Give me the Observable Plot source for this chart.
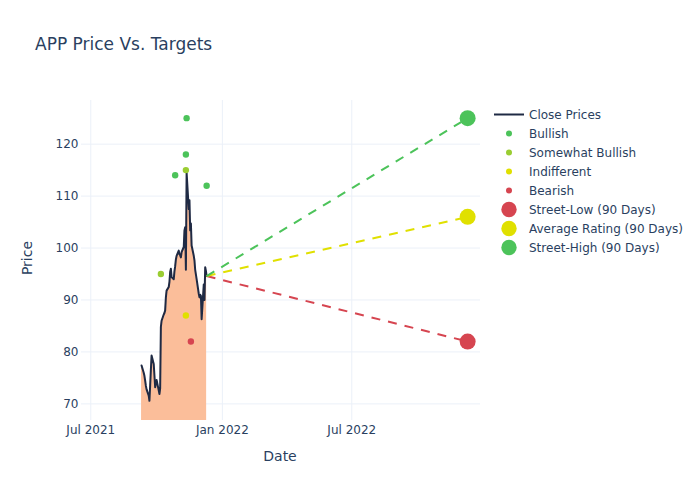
<!DOCTYPE html>
<html>
<head>
<meta charset="utf-8">
<script src="https://cdn.jsdelivr.net/npm/d3@7"></script>
<script src="https://cdn.jsdelivr.net/npm/@observablehq/plot@0.6"></script>
<style>
  body { margin: 0; background: #fff; }
  #wrap { position: relative; width: 700px; height: 500px; font-family: "DejaVu Sans", sans-serif; }
  #overlay { position: absolute; left: 0; top: 0; pointer-events: none; }
</style>
</head>
<body>
<div id="wrap"></div>
<script>
// ---- data ----
const priceDates = [
  "2021-09-10","2021-09-13","2021-09-14","2021-09-15","2021-09-16","2021-09-17",
  "2021-09-20","2021-09-21","2021-09-22","2021-09-23","2021-09-24",
  "2021-09-27","2021-09-28","2021-09-29","2021-09-30","2021-10-01",
  "2021-10-04","2021-10-05","2021-10-06","2021-10-07","2021-10-08",
  "2021-10-11","2021-10-12","2021-10-13","2021-10-14","2021-10-15",
  "2021-10-18","2021-10-19","2021-10-20","2021-10-21","2021-10-22",
  "2021-10-25","2021-10-26","2021-10-27","2021-10-28","2021-10-29",
  "2021-11-01","2021-11-02","2021-11-03","2021-11-04","2021-11-05",
  "2021-11-08","2021-11-09","2021-11-10","2021-11-11","2021-11-12",
  "2021-11-15","2021-11-16","2021-11-17","2021-11-18","2021-11-19",
  "2021-11-22","2021-11-23","2021-11-24","2021-11-26",
  "2021-11-29","2021-11-30","2021-12-01","2021-12-02","2021-12-03",
  "2021-12-06","2021-12-07","2021-12-08","2021-12-09","2021-12-10"
];
const closePrices = [
  77.4, 76.0, 75.4, 74.5, 73.5, 72.8,
  71.6, 70.6, 73.5, 76.5, 79.3,
  77.7, 75.5, 73.2, 74.0, 74.6,
  72.6, 71.9, 73.0, 84.8, 86.0,
  87.2, 87.5, 88.0, 90.5, 91.8,
  92.5, 93.5, 95.4, 96.0, 94.4,
  94.0, 95.5, 96.5, 97.8, 98.5,
  99.5, 98.8, 98.6, 98.2, 99.2,
  100.2, 103.4, 104.0, 95.8, 114.5,
  107.5, 109.2, 103.4, 104.7, 100.5,
  98.5, 97.6, 95.8, 94.0,
  91.2, 90.5, 91.0, 90.8, 86.3,
  93.0, 90.0, 96.3, 95.6, 94.6
];

const ratingDates  = ["2021-11-12","2021-11-11","2021-10-27","2021-12-10","2021-11-11","2021-10-07","2021-11-11","2021-11-18"];
const ratingValues = [125, 118, 114, 112, 115, 95, 87, 82];
const ratingTypes  = ["Bullish","Bullish","Bullish","Bullish","Somewhat Bullish","Somewhat Bullish","Indifferent","Bearish"];

const targetLabels = ["Street-Low (90 Days)", "Average Rating (90 Days)", "Street-High (90 Days)"];
const targetValues = [82, 106, 125];
const targetDate = "2022-12-10";

const xTickDates  = ["2021-07-01", "2022-01-01", "2022-07-01"];
const xTickLabels = ["Jul 2021", "Jan 2022", "Jul 2022"];
const yTicks = [70, 80, 90, 100, 110, 120];

const colors = {
  "Bullish": "#4cc35a",
  "Somewhat Bullish": "#9acd32",
  "Indifferent": "#e0e000",
  "Bearish": "#d64550",
  "Street-Low (90 Days)": "#d64550",
  "Average Rating (90 Days)": "#e0e000",
  "Street-High (90 Days)": "#4cc35a"
};
const lineColor = "#1f2a44";
const fillColor = "#fbbe9a";
const textColor = "#2a3f5f";
const gridColor = "#ebf0f8";
const fontFamily = "'DejaVu Sans', sans-serif";

// ---- build tables ----
const prices = priceDates.map((d, i) => ({date: new Date(d), close: closePrices[i]}));
const ratings = ratingDates.map((d, i) => ({date: new Date(d), value: ratingValues[i], type: ratingTypes[i]}));
const last = prices[prices.length - 1];
const targets = targetLabels.map((l, i) => ({label: l, value: targetValues[i], date: new Date(targetDate)}));
const xTicks = xTickDates.map(d => new Date(d));

const chart = Plot.plot({
  width: 700,
  height: 500,
  marginLeft: 81,
  marginRight: 220,
  marginTop: 100,
  marginBottom: 80,
  style: {fontFamily, fontSize: "12px", color: textColor, background: "#fff"},
  x: {type: "utc", domain: [new Date("2021-06-18"), new Date("2022-12-28")]},
  y: {domain: [66.8, 128.4]},
  color: {type: "identity"},
  marks: [
    Plot.gridX(xTicks, {stroke: gridColor, strokeOpacity: 1, strokeWidth: 1}),
    Plot.gridY(yTicks, {stroke: gridColor, strokeOpacity: 1, strokeWidth: 1}),
    Plot.areaY(prices, {x: "date", y: "close", fill: fillColor, fillOpacity: 1, clip: true}),
    Plot.line(prices, {x: "date", y: "close", stroke: lineColor, strokeWidth: 2}),
    Plot.link(targets, {
      x1: () => last.date, y1: () => last.close,
      x2: "date", y2: "value",
      stroke: d => colors[d.label], strokeWidth: 2, strokeDasharray: "9,8"
    }),
    Plot.dot(ratings, {x: "date", y: "value", fill: d => colors[d.type], r: 3.2}),
    Plot.dot(targets, {x: "date", y: "value", fill: d => colors[d.label], r: 8}),
    Plot.axisX(xTicks, {
      tickSize: 0, tickPadding: 5, label: null,
      tickFormat: d => xTickLabels[xTicks.findIndex(t => +t === +d)]
    }),
    Plot.axisY(yTicks, {tickSize: 0, tickPadding: 3, label: null})
  ]
});

const wrap = document.getElementById("wrap");
wrap.appendChild(chart);

// ---- overlay: title, axis titles, legend ----
const svg = d3.select(wrap).append("svg")
  .attr("id", "overlay").attr("width", 700).attr("height", 500)
  .style("font-family", fontFamily);

svg.append("text").attr("x", 35).attr("y", 50)
  .attr("fill", textColor).attr("font-size", 17)
  .text("APP Price Vs. Targets");

svg.append("text").attr("x", 280).attr("y", 461)
  .attr("text-anchor", "middle").attr("fill", textColor).attr("font-size", 14)
  .text("Date");

svg.append("text").attr("transform", "translate(32,258) rotate(-90)")
  .attr("text-anchor", "middle").attr("fill", textColor).attr("font-size", 14)
  .text("Price");

const legendItems = [
  {label: "Close Prices", kind: "line", color: lineColor},
  {label: "Bullish", kind: "small", color: colors["Bullish"]},
  {label: "Somewhat Bullish", kind: "small", color: colors["Somewhat Bullish"]},
  {label: "Indifferent", kind: "small", color: colors["Indifferent"]},
  {label: "Bearish", kind: "small", color: colors["Bearish"]},
  {label: targetLabels[0], kind: "big", color: colors[targetLabels[0]]},
  {label: targetLabels[1], kind: "big", color: colors[targetLabels[1]]},
  {label: targetLabels[2], kind: "big", color: colors[targetLabels[2]]}
];
const lg = svg.append("g");
legendItems.forEach((it, i) => {
  const y = 114.5 + i * 19;
  if (it.kind === "line") {
    lg.append("line").attr("x1", 494).attr("x2", 524).attr("y1", y).attr("y2", y)
      .attr("stroke", it.color).attr("stroke-width", 2);
  } else {
    lg.append("circle").attr("cx", 509).attr("cy", y)
      .attr("r", it.kind === "big" ? 7.7 : 3).attr("fill", it.color);
  }
  lg.append("text").attr("x", 529).attr("y", y).attr("dy", "0.35em")
    .attr("fill", textColor).attr("font-size", 12).text(it.label);
});
</script>
</body>
</html>
